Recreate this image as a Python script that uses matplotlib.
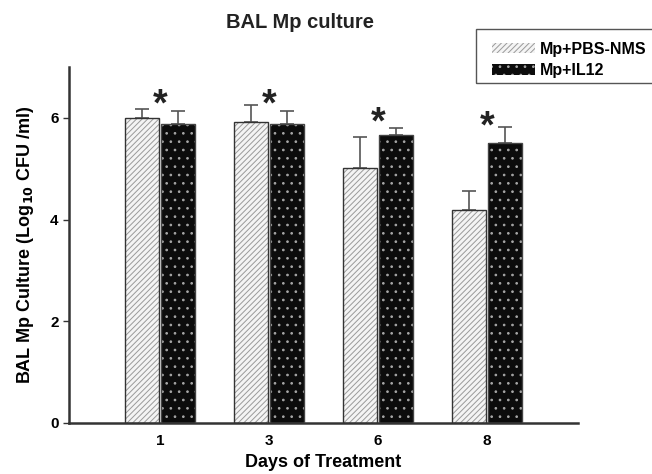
import numpy as np
import matplotlib.pyplot as plt
from matplotlib.patches import Patch, Rectangle

plt.rcParams['font.family'] = ['Liberation Sans', 'DejaVu Sans']
plt.rcParams['font.weight'] = 'bold'
plt.rcParams['hatch.linewidth'] = 0.7

days = ['1', '3', '6', '8']
pbs_mean = [6.00, 5.92, 5.02, 4.19]
pbs_err = [0.18, 0.34, 0.61, 0.38]
il12_mean = [5.87, 5.87, 5.67, 5.51]
il12_err = [0.26, 0.27, 0.14, 0.32]
star_y = [6.25, 6.25, 5.89, 5.81]

x = np.arange(len(days))
w = 0.31
off = 0.165

fig = plt.figure(figsize=(6.52, 4.74), dpi=100)
ax = fig.add_axes([0.1058, 0.1076, 0.7807, 0.751])

# hatched fills first, outlines on top
ax.bar(x - off, pbs_mean, w, color='#f4f4f4', hatch='//////', edgecolor='#9a9a9a', linewidth=0, zorder=2)
ax.bar(x + off, il12_mean, w, color='#0c0c0c', hatch='..', edgecolor='#a8a8a8', linewidth=0, zorder=2)
ax.bar(x - off, pbs_mean, w, fill=False, edgecolor='#333333', linewidth=1.0, zorder=3)
ax.bar(x + off, il12_mean, w, fill=False, edgecolor='#444444', linewidth=1.0, zorder=3)

ax.errorbar(x - off, pbs_mean, yerr=[np.zeros(4), pbs_err], fmt='none', ecolor='#555555',
            elinewidth=1.2, capsize=5, capthick=1.2, zorder=1)
ax.errorbar(x + off, il12_mean, yerr=[np.zeros(4), il12_err], fmt='none', ecolor='#555555',
            elinewidth=1.2, capsize=5, capthick=1.2, zorder=1)

for xi, yi in zip(x, star_y):
    ax.text(xi, yi, '*', ha='center', va='center', fontsize=27, color='#222222')

ax.set_xlim(-0.835, 3.835)
ax.set_ylim(0, 7.0)
ax.set_yticks([0, 2, 4, 6])
ax.set_xticks(x)
ax.set_xticklabels(days)
ax.tick_params(axis='x', length=0, pad=8, labelsize=11)
ax.tick_params(axis='y', length=4, width=1, color='#333333', labelsize=11)
for lbl in ax.get_xticklabels() + ax.get_yticklabels():
    lbl.set_fontweight('bold')

for s in ['top', 'right']:
    ax.spines[s].set_visible(False)
for s in ['left', 'bottom']:
    ax.spines[s].set_linewidth(1.8)
    ax.spines[s].set_color('#333333')

ax.set_xlabel('Days of Treatment', fontsize=13, fontweight='bold', labelpad=4)
ax.set_ylabel('BAL Mp Culture (Log$_{\\mathbf{10}}$ CFU /ml)', fontsize=13, fontweight='bold', labelpad=10)
fig.text(0.46, 0.953, 'BAL Mp culture', ha='center', va='center', fontsize=14.5, fontweight='bold', color='#222222')

# legend frame runs off the right edge
fig.patches.append(Rectangle((476 / 652, 1 - 83 / 474), 0.4, 54 / 474, transform=fig.transFigure,
                             fill=False, edgecolor='#555555', linewidth=1.0))
handles = [Patch(facecolor='#f4f4f4', hatch='//////', edgecolor='#9a9a9a', linewidth=0),
           Patch(facecolor='#0c0c0c', hatch='..', edgecolor='#a8a8a8', linewidth=0)]
fig.legend(handles, ['Mp+PBS-NMS', 'Mp+IL12'], loc='center left', bbox_to_anchor=(481 / 652, 1 - 60 / 474),
           frameon=False, handlelength=2.7, handleheight=0.6, handletextpad=0.3,
           labelspacing=0.4, borderpad=0.2, prop={'weight': 'bold', 'size': 11.5})

fig.savefig('out.png', dpi=100)
